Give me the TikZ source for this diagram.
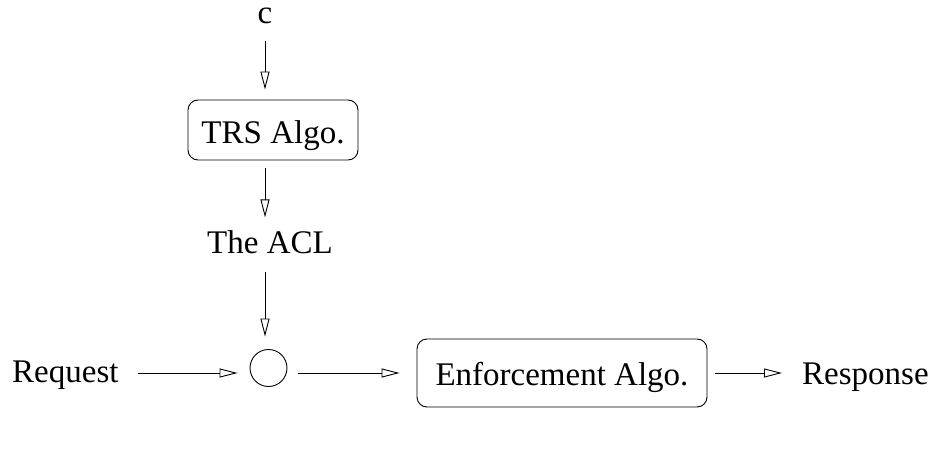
\documentclass[tikz,border=0pt]{standalone}
\usepackage{fontspec}
\setmainfont{Liberation Serif}
\usetikzlibrary{arrows.meta,shapes.geometric}
\begin{document}
\begin{tikzpicture}[x=1pt,y=-1pt,
  every node/.style={font=\fontsize{33}{40}\selectfont},
  lbl/.style={inner sep=0pt},
  algobox/.style={draw,rounded corners=10pt,line width=0.9pt,inner sep=0pt},
  junc/.style={draw,circle,line width=0.9pt,inner sep=0pt,minimum size=37pt},
  arr/.style={line width=0.9pt,-{Triangle[open,length=18pt,width=9pt,line width=0.9pt]}}]
\useasboundingbox (0,0) rectangle (929,460);
\node[lbl,anchor=base] (c) at (265,24) {c};
\node[algobox,minimum width=170pt,minimum height=60pt,text height=26pt,text depth=0pt] (trs) at (273,130) {TRS Algo.};
\node[lbl,anchor=base] (acl) at (270,253) {The ACL};
\node[junc] (circ) at (268.5,368) {};
\node[lbl,anchor=base west] (req) at (12,382) {Request};
\node[algobox,minimum width=290pt,minimum height=68pt,text height=24pt,text depth=0pt] (enf) at (562,373) {Enforcement Algo.};
\node[lbl,anchor=base west] (resp) at (802,384) {Response};
\coordinate (ay) at (0,373);
\draw[arr,shorten <=16pt,shorten >=10pt] (c.south) -- (c |- trs.north);
\draw[arr,shorten <=8pt,shorten >=12.5pt] (c |- trs.south) -- (c |- acl.north);
\draw[arr,shorten <=18pt,shorten >=12.5pt] (c |- acl.south) -- (c |- circ.north);
\draw[arr,shorten <=19pt,shorten >=12pt] (req.east |- ay) -- (circ.west |- ay);
\draw[arr,shorten <=11pt,shorten >=17pt] (circ.east |- ay) -- (enf.west |- ay);
\draw[arr,shorten <=8pt,shorten >=20pt] (enf.east |- ay) -- (resp.west |- ay);
\end{tikzpicture}
\end{document}
